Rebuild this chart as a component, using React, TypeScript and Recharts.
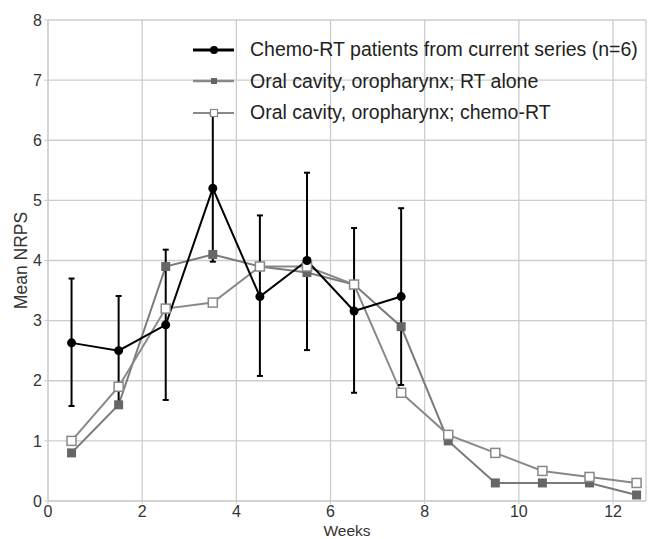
import { LineChart, Line, XAxis, YAxis, CartesianGrid, ErrorBar } from "recharts";

const weeks = [0.5, 1.5, 2.5, 3.5, 4.5, 5.5, 6.5, 7.5, 8.5, 9.5, 10.5, 11.5, 12.5];
const currentMean = [2.63, 2.5, 2.93, 5.2, 3.4, 4.0, 3.16, 3.4];
const currentHigh = [3.7, 3.41, 4.18, 6.42, 4.75, 5.46, 4.54, 4.87];
const currentLow = [1.58, 1.6, 1.68, 3.98, 2.08, 2.51, 1.8, 1.93];
const rtAlone = [0.8, 1.6, 3.9, 4.1, 3.9, 3.8, 3.6, 2.9, 1.0, 0.3, 0.3, 0.3, 0.1];
const chemoRt = [1.0, 1.9, 3.2, 3.3, 3.9, 3.9, 3.6, 1.8, 1.1, 0.8, 0.5, 0.4, 0.3];
const xTicks = [0, 2, 4, 6, 8, 10, 12];
const yTicks = [0, 1, 2, 3, 4, 5, 6, 7, 8];

const seriesNames = [
  "Chemo-RT patients from current series (n=6)",
  "Oral cavity, oropharynx; RT alone",
  "Oral cavity, oropharynx; chemo-RT",
];

const data = weeks.map((w, i) => ({
  week: w,
  current: currentMean[i],
  currentErr:
    currentMean[i] !== undefined
      ? [currentMean[i] - currentLow[i], currentHigh[i] - currentMean[i]]
      : undefined,
  rt: rtAlone[i],
  chemo: chemoRt[i],
}));

const FONT = "'Liberation Sans', Arial, sans-serif";

function FilledSquare(props: any) {
  const { cx, cy } = props;
  if (cx == null || cy == null) return null;
  return <rect x={cx - 4.5} y={cy - 4.5} width={9} height={9} fill="#666" />;
}

function OpenSquare(props: any) {
  const { cx, cy } = props;
  if (cx == null || cy == null) return null;
  return <rect x={cx - 4.5} y={cy - 4.5} width={9} height={9} fill="#fff" stroke="#888" strokeWidth={1.5} />;
}

function YLabel(props: any) {
  const { viewBox } = props;
  const x = 21;
  const y = viewBox.y + viewBox.height / 2;
  return (
    <text
      x={x}
      y={y}
      transform={`rotate(-90, ${x}, ${y})`}
      textAnchor="middle"
      dominantBaseline="central"
      fill="#333"
      fontSize={17.5}
      fontFamily={FONT}
    >
      Mean NRPS
    </text>
  );
}

// legend drawn over the plot, top right
function LegendBox() {
  const rows = [
    { color: "#000", w: 3, marker: <circle cx={21} cy={8} r={4} fill="#000" /> },
    { color: "#888", w: 2.5, marker: <rect x={18} y={5} width={6} height={6} fill="#666" /> },
    { color: "#888", w: 2, marker: <rect x={17.5} y={4.5} width={7} height={7} fill="#fff" stroke="#888" strokeWidth={1.2} /> },
  ];
  return (
    <div style={{ position: "absolute", left: 193, top: 34 }}>
      {rows.map((r, i) => (
        <div key={i} style={{ display: "flex", alignItems: "center", height: 31.5 }}>
          <svg width={41} height={16} style={{ marginRight: 16 }}>
            <line x1={0} y1={8} x2={41} y2={8} stroke={r.color} strokeWidth={r.w} />
            {r.marker}
          </svg>
          <span style={{ fontFamily: FONT, fontSize: 19.5, color: "#222", whiteSpace: "nowrap" }}>{seriesNames[i]}</span>
        </div>
      ))}
    </div>
  );
}

export default function App() {
  return (
    <div style={{ position: "absolute", left: 0, top: 0, width: 649, height: 539, background: "#fff" }}>
      <LineChart width={649} height={539} data={data} margin={{ top: 20, right: 3, left: 0, bottom: 0 }}>
        <CartesianGrid stroke="#ccc" strokeWidth={1.3} />
        <XAxis
          dataKey="week"
          type="number"
          domain={[0, 12.7]}
          ticks={xTicks}
          height={38}
          stroke="#ccc"
          tick={{ fill: "#333", fontSize: 16, fontFamily: FONT }}
          tickSize={3}
          label={{ value: "Weeks", position: "insideBottom", offset: 0, fill: "#333", fontSize: 15.5, fontFamily: FONT, dy: -3 }}
        />
        <YAxis
          type="number"
          domain={[0, 8]}
          ticks={yTicks}
          width={48}
          stroke="#ccc"
          tick={{ fill: "#333", fontSize: 16, fontFamily: FONT }}
          tickSize={4}
          label={<YLabel />}
        />
        <Line
          dataKey="rt"
          stroke="#7a7a7a"
          strokeWidth={2}
          dot={<FilledSquare />}
          activeDot={false}
          isAnimationActive={false}
        />
        <Line
          dataKey="chemo"
          stroke="#888"
          strokeWidth={2}
          dot={<OpenSquare />}
          activeDot={false}
          isAnimationActive={false}
        />
        <Line
          dataKey="current"
          stroke="#000"
          strokeWidth={2}
          dot={{ r: 4.5, fill: "#000", stroke: "#000", strokeWidth: 0 }}
          activeDot={false}
          isAnimationActive={false}
        >
          <ErrorBar dataKey="currentErr" width={3} stroke="#000" strokeWidth={2} direction="y" />
        </Line>
      </LineChart>
      <LegendBox />
    </div>
  );
}
